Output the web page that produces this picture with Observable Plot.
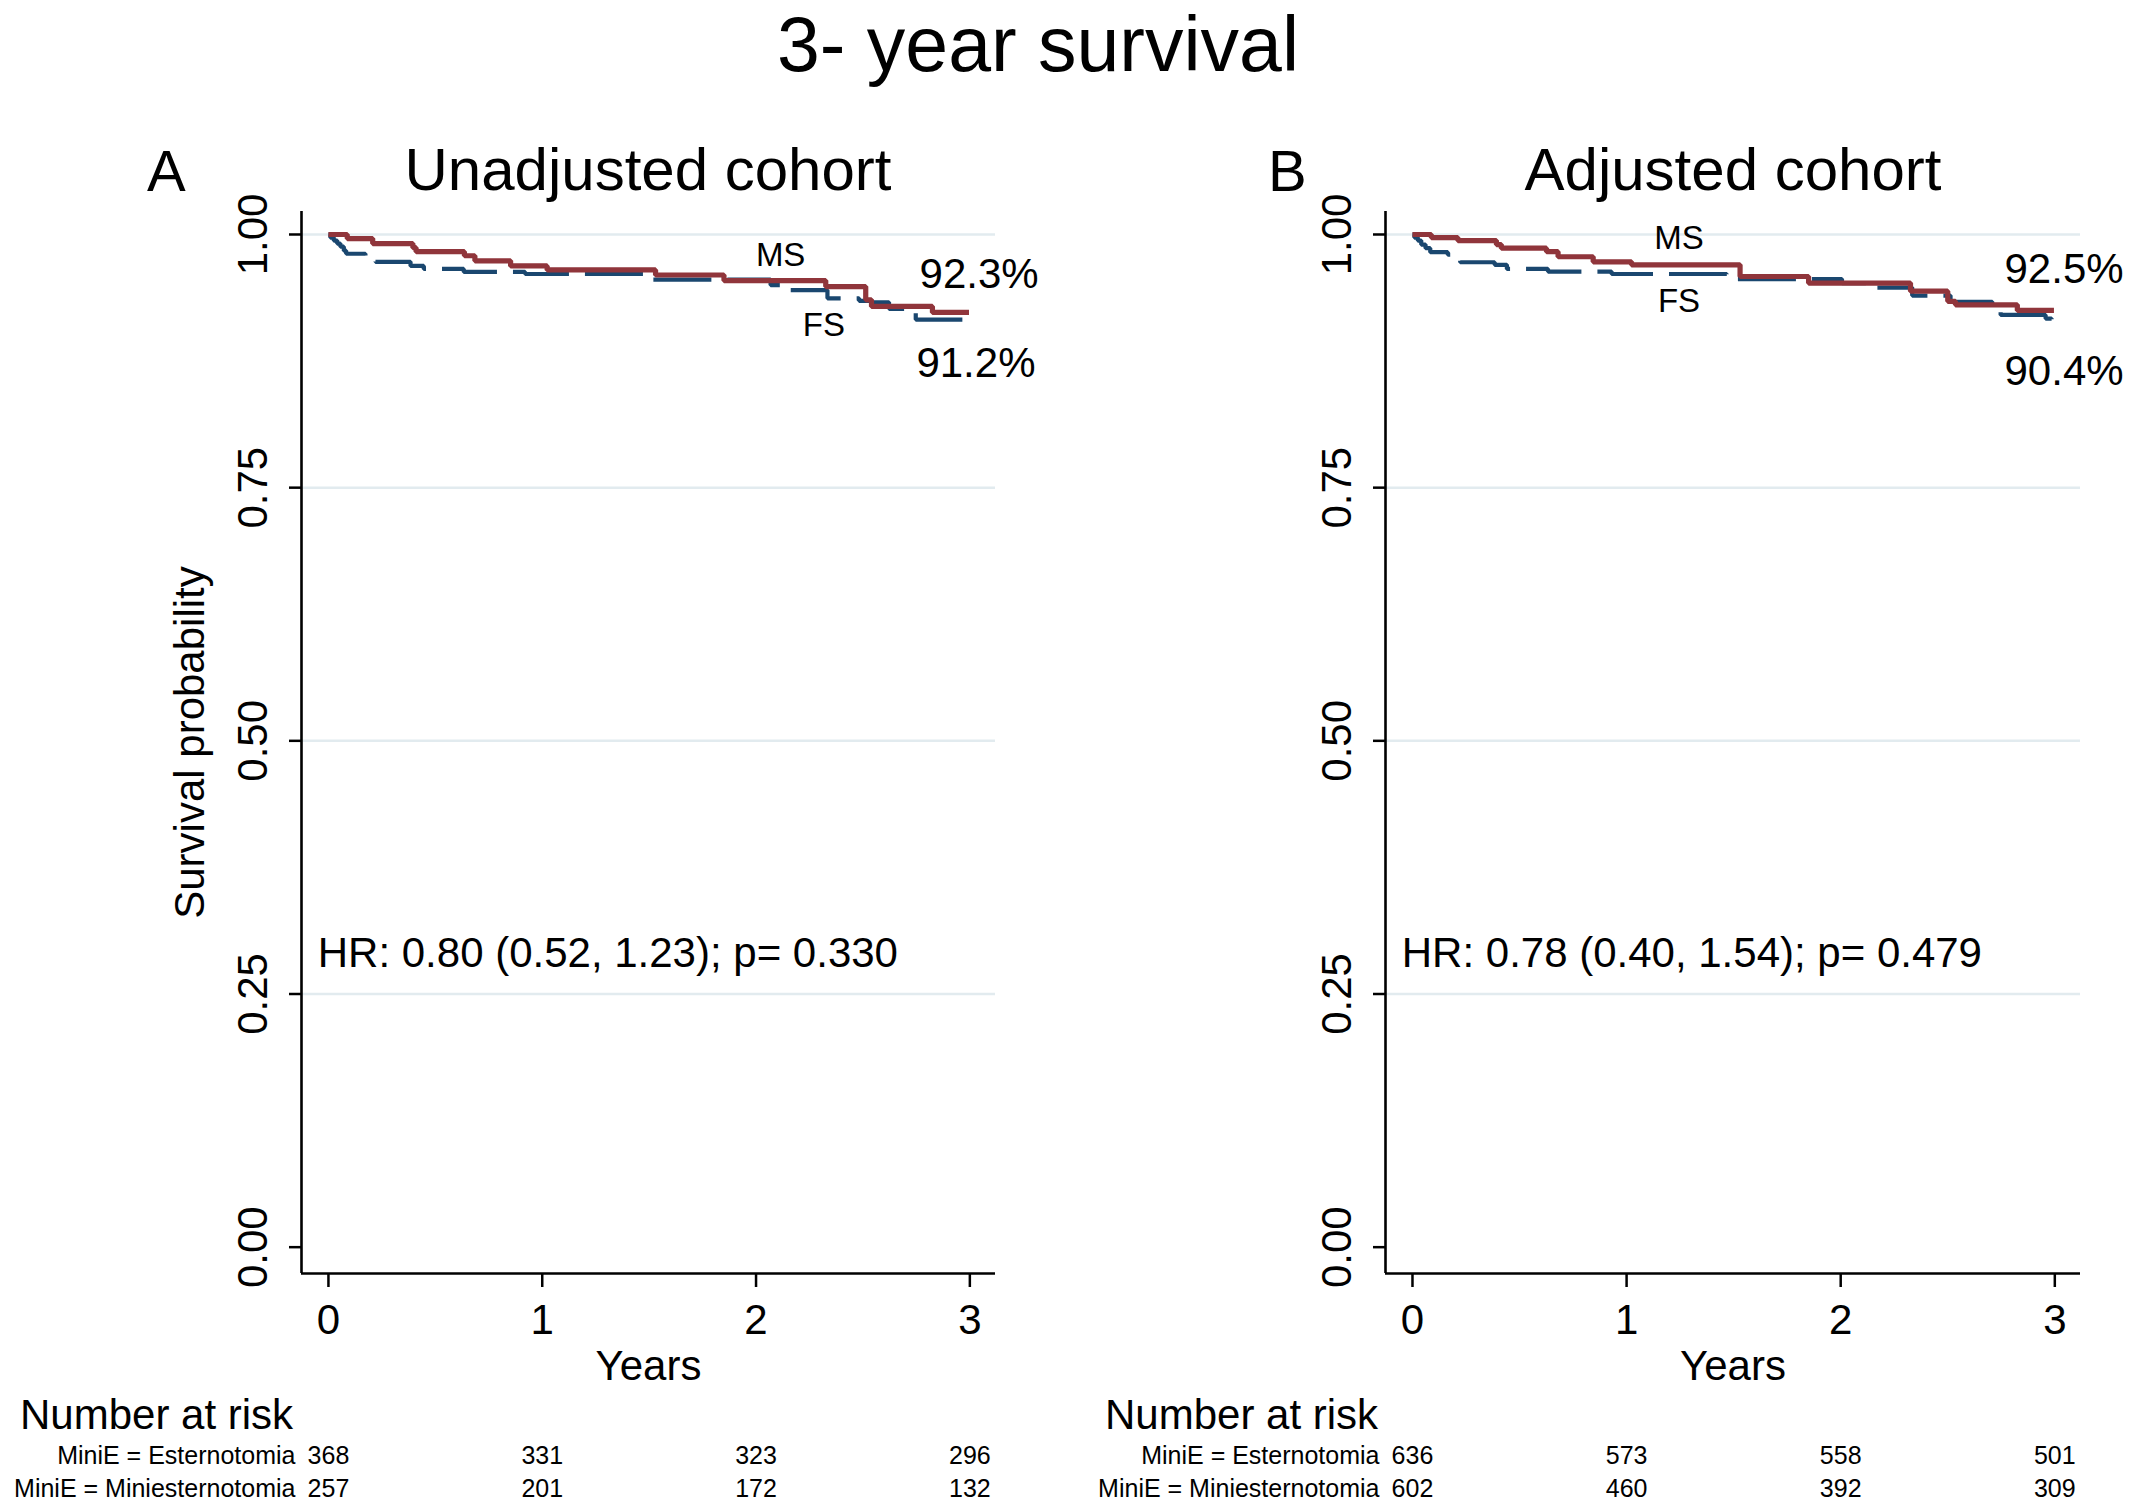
<!DOCTYPE html>
<html><head><meta charset="utf-8">
<script src="https://cdn.jsdelivr.net/npm/d3@7"></script>
<script src="https://cdn.jsdelivr.net/npm/@observablehq/plot@0.6"></script>
<style>
body{margin:0;background:#fff;}
#fig{position:relative;width:2134px;height:1506px;overflow:hidden;font-family:"Liberation Sans",Arial,Helvetica,sans-serif;color:#000;background:#fff;}
.lbl{position:absolute;line-height:1.2;white-space:nowrap;}
.panel{position:absolute;top:150px;}
</style></head><body>
<div id="fig">
  <div class="lbl" style="left:0;width:2076px;text-align:center;top:10px;line-height:0.9;font-size:77px">3- year survival</div>
  <div class="lbl" style="left:147px;top:136px;font-size:58px">A</div>
  <div class="lbl" style="left:148px;width:1000px;text-align:center;top:134px;font-size:60px">Unadjusted cohort</div>
  <div class="lbl" style="left:1268px;top:136px;font-size:58px">B</div>
  <div class="lbl" style="left:1233px;width:1000px;text-align:center;top:134px;font-size:60px">Adjusted cohort</div>
  <div class="lbl" style="left:20px;top:1390px;font-size:42px">Number at risk</div>
  <div class="lbl" style="left:1105px;top:1390px;font-size:42px">Number at risk</div>
  <div id="pA" class="panel" style="left:0px"></div>
  <div id="pB" class="panel" style="left:1067px"></div>
</div>
<script>
// ---- data ----
const years = [0, 1, 2, 3];
const yTicks = [0, 0.25, 0.5, 0.75, 1];
const gridTicks = [0.25, 0.5, 0.75, 1];

// Panel A (unadjusted cohort)
const timeA_FS = [0, 0.009, 0.025, 0.041, 0.056, 0.072, 0.083, 0.173, 0.22, 0.384, 0.446, 0.633, 0.92, 1.476, 2.068, 2.131, 2.334, 2.482, 2.544, 2.622, 2.70, 2.747, 2.965];
const survA_FS = [1, 0.997, 0.994, 0.991, 0.988, 0.984, 0.981, 0.978, 0.973, 0.969, 0.966, 0.963, 0.961, 0.9555, 0.950, 0.945, 0.937, 0.9345, 0.933, 0.9266, 0.9246, 0.916, 0.916];
const timeA_MS = [0, 0.088, 0.207, 0.395, 0.41, 0.636, 0.685, 0.852, 1.023, 1.53, 1.85, 2.326, 2.513, 2.54, 2.825, 2.996];
const survA_MS = [1, 0.996, 0.991, 0.987, 0.983, 0.979, 0.974, 0.969, 0.965, 0.960, 0.9545, 0.9486, 0.9355, 0.929, 0.923, 0.923];

// Panel B (adjusted cohort)
const timeB_FS = [0, 0.009, 0.025, 0.041, 0.061, 0.083, 0.165, 0.181, 0.223, 0.384, 0.441, 0.633, 0.93, 1.468, 2.006, 2.131, 2.334, 2.513, 2.708, 2.747, 2.957, 2.985, 2.99];
const survB_FS = [1, 0.997, 0.994, 0.990, 0.9865, 0.9825, 0.980, 0.977, 0.9726, 0.970, 0.966, 0.9634, 0.961, 0.956, 0.952, 0.9476, 0.9397, 0.9335, 0.9256, 0.9206, 0.917, 0.904, 0.904];
const timeB_MS = [0, 0.088, 0.212, 0.392, 0.415, 0.626, 0.68, 0.844, 1.023, 1.53, 1.85, 2.326, 2.50, 2.536, 2.825, 2.996];
const survB_MS = [1, 0.997, 0.994, 0.990, 0.9865, 0.983, 0.978, 0.973, 0.970, 0.9585, 0.952, 0.944, 0.934, 0.9305, 0.925, 0.925];

// Number at risk
const riskGroups = ["MiniE = Esternotomia", "MiniE = Miniesternotomia"];
const riskA_E = [368, 331, 323, 296];
const riskA_M = [257, 201, 172, 132];
const riskB_E = [636, 573, 558, 501];
const riskB_M = [602, 460, 392, 309];

// Annotations
const hrA = "HR: 0.80 (0.52, 1.23); p= 0.330";
const hrB = "HR: 0.78 (0.40, 1.54); p= 0.479";
const pctA = [{t: 2.765, s: 0.9605, label: "92.3%"}, {t: 2.75, s: 0.873, label: "91.2%"}];
const pctB = [{t: 2.765, s: 0.9655, label: "92.5%"}, {t: 2.765, s: 0.865, label: "90.4%"}];
const grpA = [{t: 2.115, s: 0.979, label: "MS"}, {t: 2.317, s: 0.910, label: "FS"}];
const grpB = [{t: 1.245, s: 0.996, label: "MS"}, {t: 1.245, s: 0.934, label: "FS"}];
const hrPos = {t: -0.05, s: 0.29};

// ---- style ----
const NAVY = "#1a476f", MAROON = "#90353b", GRID = "#e2ebef";
const xDom = [-0.126, 3.12], yDom = [-0.026, 1.0227];

function panel({fsT, fsS, msT, msS, riskE, riskM, hr, pct, grp, marginLeft, marginRight, ylabel}) {
  const fsData = fsT.map((t, i) => ({t, s: fsS[i]}));
  const msData = msT.map((t, i) => ({t, s: msS[i]}));
  const marks = [
    Plot.ruleY(gridTicks, {stroke: GRID, strokeWidth: 2.5}),
    Plot.line(fsData, {x: "t", y: "s", curve: "step-after", stroke: NAVY, strokeWidth: 4.2, strokeDasharray: "58,16", strokeLinecap: "butt", strokeLinejoin: "miter"}),
    Plot.line(msData, {x: "t", y: "s", curve: "step-after", stroke: MAROON, strokeWidth: 5.2, strokeLinecap: "butt", strokeLinejoin: "miter"}),
    Plot.ruleX([xDom[0]], {stroke: "#000", strokeWidth: 2.6}),
    Plot.ruleY([yDom[0]], {stroke: "#000", strokeWidth: 2.6}),
    Plot.axisX({ticks: years, tickSize: 14, tickPadding: 17, fontSize: 42, tickFormat: d3.format("d"), label: null, strokeWidth: 2.5}),
    Plot.axisY({ticks: yTicks, tickSize: 12, tickFormat: () => "", label: null, strokeWidth: 2.5}),
    Plot.text(yTicks, {y: d => d, text: d => d3.format(".2f")(d), frameAnchor: "left", textAnchor: "middle", lineAnchor: "middle", rotate: -90, dx: -48, fontSize: 42}),
    Plot.text(["Years"], {text: d => d, frameAnchor: "bottom", lineAnchor: "middle", dy: 93, fontSize: 42}),
    Plot.text(pct, {x: "t", y: "s", text: "label", textAnchor: "start", fontSize: 42}),
    Plot.text(grp, {x: "t", y: "s", text: "label", fontSize: 33}),
    Plot.text([hr], {x: () => hrPos.t, y: () => hrPos.s, text: d => d, textAnchor: "start", fontSize: 42}),
    Plot.text(years, {x: d => d, text: (d, i) => riskE[i], frameAnchor: "bottom", lineAnchor: "middle", dy: 182, fontSize: 25}),
    Plot.text(years, {x: d => d, text: (d, i) => riskM[i], frameAnchor: "bottom", lineAnchor: "middle", dy: 215, fontSize: 25}),
    Plot.text([riskGroups[0]], {x: () => years[0], text: d => d, frameAnchor: "bottom", lineAnchor: "middle", dy: 182, dx: -33, textAnchor: "end", fontSize: 25}),
    Plot.text([riskGroups[1]], {x: () => years[0], text: d => d, frameAnchor: "bottom", lineAnchor: "middle", dy: 215, dx: -33, textAnchor: "end", fontSize: 25})
  ];
  if (ylabel) marks.push(Plot.text([ylabel], {text: d => d, frameAnchor: "left", textAnchor: "middle", lineAnchor: "middle", rotate: -90, dx: -111, fontSize: 42}));
  return Plot.plot({
    width: 1067, height: 1356,
    marginLeft, marginRight, marginTop: 61, marginBottom: 233,
    x: {domain: xDom, nice: false},
    y: {domain: yDom, nice: false},
    style: {fontFamily: '"Liberation Sans", Arial, Helvetica, sans-serif', background: "transparent", color: "#000", overflow: "visible"},
    marks
  });
}

document.getElementById("pA").appendChild(panel({
  fsT: timeA_FS, fsS: survA_FS, msT: timeA_MS, msS: survA_MS,
  riskE: riskA_E, riskM: riskA_M, hr: hrA, pct: pctA, grp: grpA,
  marginLeft: 301, marginRight: 72, ylabel: "Survival probability"
}));
document.getElementById("pB").appendChild(panel({
  fsT: timeB_FS, fsS: survB_FS, msT: timeB_MS, msS: survB_MS,
  riskE: riskB_E, riskM: riskB_M, hr: hrB, pct: pctB, grp: grpB,
  marginLeft: 318, marginRight: 54, ylabel: null
}));
</script>
</body></html>
